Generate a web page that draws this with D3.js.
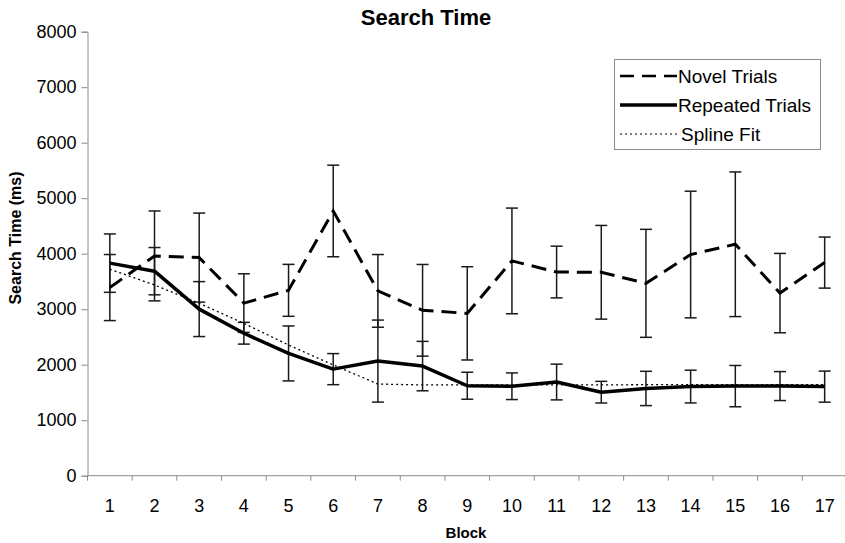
<!DOCTYPE html>
<html>
<head>
<meta charset="utf-8">
<script src="https://cdn.jsdelivr.net/npm/d3@7/dist/d3.min.js"></script>
<style>
  html, body { margin: 0; padding: 0; background: #fff; }
  svg { display: block; font-family: "Liberation Sans", Arial, sans-serif; }
</style>
</head>
<body>
<svg id="chart" width="845" height="543"></svg>
<script>
// ---- Data ----
const blocks = [1, 2, 3, 4, 5, 6, 7, 8, 9, 10, 11, 12, 13, 14, 15, 16, 17];
const novelMeans = [3390, 3960, 3930, 3110, 3340, 4770, 3330, 2980, 2925, 3870, 3670, 3665, 3466, 3985, 4170, 3290, 3840];
const novelErr   = [595, 810, 802, 528, 468, 825, 655, 826, 840, 952, 466, 844, 973, 1141, 1303, 715, 460];
const repeatedMeans = [3830, 3685, 3002, 2567, 2203, 1920, 2065, 1975, 1621, 1612, 1688, 1505, 1572, 1606, 1614, 1615, 1605];
const repeatedErr   = [526, 426, 495, 196, 495, 280, 739, 445, 243, 240, 322, 195, 309, 295, 372, 261, 280];
const splineFit = [3720, 3436, 3106, 2745, 2355, 1995, 1652, 1635, 1635, 1635, 1635, 1635, 1640, 1640, 1640, 1640, 1640];
const yTicks = [0, 1000, 2000, 3000, 4000, 5000, 6000, 7000, 8000];
const seriesNames = ["Novel Trials", "Repeated Trials", "Spline Fit"];

// ---- Layout ----
const svg = d3.select("#chart");
const plotLeft = 87.5, plotRight = 847, plotTop = 31.7, plotBottom = 475.7;
const axisColor = "#8c8c8c";

const x = d3.scaleBand().domain(blocks).range([plotLeft, plotRight]).paddingInner(0).paddingOuter(0);
const y = d3.scaleLinear().domain([0, 8000]).range([plotBottom, plotTop]);
const cx = b => x(b) + x.bandwidth() / 2;

// Axes
const yAxis = d3.axisLeft(y).tickValues(yTicks).tickSize(6).tickPadding(5).tickFormat(d3.format("d"));
const gy = svg.append("g").attr("transform", `translate(${plotLeft},0)`).call(yAxis);
gy.select(".domain").attr("stroke", axisColor);
gy.selectAll(".tick line").attr("stroke", axisColor);
gy.selectAll(".tick text").attr("font-size", 18).attr("fill", "#000")
  .attr("font-family", "Liberation Sans, Arial, sans-serif");

// X axis: line + ticks between categories
const gx = svg.append("g");
gx.append("line").attr("x1", plotLeft).attr("x2", plotRight).attr("y1", plotBottom).attr("y2", plotBottom)
  .attr("stroke", axisColor);
const boundaries = blocks.map(b => x(b)).concat([x.range()[1]]);
gx.selectAll("line.tk").data(boundaries).join("line").attr("class", "tk")
  .attr("x1", d => d).attr("x2", d => d).attr("y1", plotBottom).attr("y2", plotBottom + 5)
  .attr("stroke", axisColor);
gx.selectAll("text").data(blocks).join("text")
  .attr("x", d => cx(d)).attr("y", 512).attr("text-anchor", "middle")
  .attr("font-size", 18).attr("fill", "#000").text(d => d);

// Titles
svg.append("text").attr("x", 426).attr("y", 25).attr("text-anchor", "middle")
  .attr("font-size", 22).attr("font-weight", "bold").text("Search Time");
svg.append("text").attr("x", 466).attr("y", 538).attr("text-anchor", "middle")
  .attr("font-size", 15).attr("font-weight", "bold").text("Block");
svg.append("text").attr("transform", `translate(21,238) rotate(-90)`)
  .attr("text-anchor", "middle").attr("font-size", 16).attr("font-weight", "bold")
  .text("Search Time (ms)");

// Error bars
function errorBars(means, errs) {
  const g = svg.append("g").attr("stroke", "#1a1a1a").attr("stroke-width", 1.5);
  const data = blocks.map((b, i) => ({ b, m: means[i], e: errs[i] }));
  g.selectAll("line.v").data(data).join("line").attr("class", "v")
    .attr("x1", d => cx(d.b)).attr("x2", d => cx(d.b))
    .attr("y1", d => y(d.m + d.e)).attr("y2", d => y(d.m - d.e));
  g.selectAll("line.t").data(data).join("line").attr("class", "t")
    .attr("x1", d => cx(d.b) - 6).attr("x2", d => cx(d.b) + 6)
    .attr("y1", d => y(d.m + d.e)).attr("y2", d => y(d.m + d.e));
  g.selectAll("line.bt").data(data).join("line").attr("class", "bt")
    .attr("x1", d => cx(d.b) - 6).attr("x2", d => cx(d.b) + 6)
    .attr("y1", d => y(d.m - d.e)).attr("y2", d => y(d.m - d.e));
}
errorBars(novelMeans, novelErr);
errorBars(repeatedMeans, repeatedErr);

// Lines
const line = d3.line().x((d, i) => cx(blocks[i])).y(d => y(d));
svg.append("path").attr("d", line(splineFit)).attr("fill", "none")
  .attr("stroke", "#000").attr("stroke-width", 1.3).attr("stroke-dasharray", "2,3");
svg.append("path").attr("d", line(novelMeans)).attr("fill", "none")
  .attr("stroke", "#000").attr("stroke-width", 3).attr("stroke-dasharray", "15,8");
svg.append("path").attr("d", line(repeatedMeans)).attr("fill", "none")
  .attr("stroke", "#000").attr("stroke-width", 3.5).attr("stroke-linejoin", "round");

// Legend
const lg = svg.append("g");
lg.append("rect").attr("x", 614.5).attr("y", 59.5).attr("width", 206).attr("height", 90)
  .attr("fill", "#fff").attr("stroke", axisColor).attr("stroke-width", 1);
const legendStyles = [
  { w: 2.5, dash: "14,8" },
  { w: 3.5, dash: null },
  { w: 1.2, dash: "2,3" }
];
const rowY = [76, 105, 134];
seriesNames.forEach((name, i) => {
  const l = lg.append("line").attr("x1", 620).attr("x2", 677).attr("y1", rowY[i]).attr("y2", rowY[i])
    .attr("stroke", "#000").attr("stroke-width", legendStyles[i].w);
  if (legendStyles[i].dash) l.attr("stroke-dasharray", legendStyles[i].dash);
  lg.append("text").attr("x", i === 2 ? 681 : 678).attr("y", rowY[i]).attr("dy", "0.35em")
    .attr("font-size", 19).attr("fill", "#000").text(name);
});
</script>
</body>
</html>
